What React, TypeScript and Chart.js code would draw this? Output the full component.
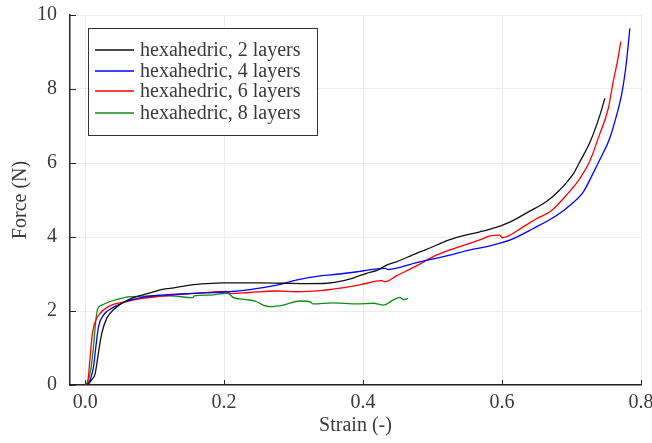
import React, { useEffect, useRef } from "react";
import { Chart, registerables } from "chart.js";

Chart.register(...registerables);

const seriesLabels = [
  "hexahedric, 2 layers",
  "hexahedric, 4 layers",
  "hexahedric, 6 layers",
  "hexahedric, 8 layers",
];
const seriesColors = ["#111111", "#0000ff", "#ff0000", "#138a13"];

const strain2 = [0.003, 0.005, 0.010, 0.0144, 0.019, 0.024, 0.031, 0.043, 0.062, 0.082, 0.094, 0.113, 0.122, 0.151, 0.175, 0.199, 0.230, 0.252, 0.285, 0.320, 0.348, 0.372, 0.390, 0.405, 0.420, 0.434, 0.448, 0.477, 0.487, 0.525, 0.554, 0.568, 0.583, 0.612, 0.638, 0.664, 0.683, 0.703, 0.711, 0.727, 0.741, 0.748];
const force2 = [0.00, 0.04, 0.15, 0.31, 0.85, 1.40, 1.80, 2.07, 2.30, 2.43, 2.49, 2.59, 2.61, 2.70, 2.74, 2.76, 2.76, 2.76, 2.75, 2.74, 2.75, 2.82, 2.92, 3.02, 3.10, 3.24, 3.33, 3.56, 3.63, 3.93, 4.08, 4.14, 4.21, 4.41, 4.68, 4.96, 5.27, 5.72, 6.00, 6.58, 7.30, 7.75];

const strain4 = [0.004, 0.0072, 0.012, 0.0154, 0.0192, 0.0264, 0.038, 0.058, 0.082, 0.110, 0.141, 0.175, 0.206, 0.237, 0.276, 0.305, 0.338, 0.367, 0.395, 0.420, 0.432, 0.436, 0.477, 0.525, 0.554, 0.578, 0.612, 0.645, 0.679, 0.698, 0.717, 0.731, 0.741, 0.755, 0.765, 0.772, 0.778, 0.784];
const force4 = [0.00, 0.14, 0.49, 1.03, 1.57, 1.89, 2.07, 2.25, 2.37, 2.43, 2.46, 2.49, 2.52, 2.58, 2.70, 2.84, 2.95, 3.00, 3.07, 3.14, 3.15, 3.12, 3.31, 3.51, 3.65, 3.74, 3.92, 4.23, 4.59, 4.86, 5.22, 5.72, 6.10, 6.67, 7.30, 7.84, 8.56, 9.64];

const strain6 = [0.002, 0.0039, 0.0072, 0.0105, 0.0144, 0.0216, 0.0335, 0.058, 0.082, 0.110, 0.141, 0.165, 0.204, 0.209, 0.237, 0.276, 0.305, 0.338, 0.357, 0.396, 0.427, 0.432, 0.448, 0.477, 0.501, 0.525, 0.549, 0.568, 0.583, 0.597, 0.600, 0.631, 0.650, 0.669, 0.693, 0.712, 0.727, 0.739, 0.753, 0.760, 0.766, 0.771];
const force6 = [0.00, 0.09, 0.76, 1.40, 1.71, 1.94, 2.12, 2.25, 2.34, 2.40, 2.46, 2.49, 2.53, 2.47, 2.50, 2.54, 2.52, 2.55, 2.59, 2.71, 2.82, 2.79, 2.95, 3.22, 3.47, 3.65, 3.80, 3.92, 4.03, 4.05, 3.98, 4.28, 4.50, 4.68, 5.14, 5.58, 6.08, 6.70, 7.48, 8.20, 8.74, 9.28];

const strain8 = [0.000, 0.0024, 0.008, 0.012, 0.0154, 0.0183, 0.024, 0.038, 0.058, 0.082, 0.094, 0.122, 0.155, 0.157, 0.180, 0.204, 0.207, 0.213, 0.232, 0.247, 0.256, 0.266, 0.285, 0.309, 0.324, 0.328, 0.357, 0.391, 0.415, 0.429, 0.444, 0.453, 0.458, 0.465];
const force8 = [0.00, 0.04, 0.40, 1.03, 1.76, 2.07, 2.16, 2.27, 2.37, 2.40, 2.41, 2.41, 2.36, 2.41, 2.43, 2.48, 2.46, 2.37, 2.31, 2.25, 2.16, 2.12, 2.16, 2.27, 2.25, 2.19, 2.22, 2.19, 2.21, 2.16, 2.30, 2.37, 2.31, 2.34];

const xTicks = [0, 0.2, 0.4, 0.6, 0.8];
const yTicks = [0, 2, 4, 6, 8, 10];
const xTitle = "Strain (-)";
const yTitle = "Force (N)";

const FONT = "'Liberation Serif', 'Times New Roman', serif";
const TEXT = "#3a3a3a";
const AXIS = "#262626";

const pairs = (xs: number[], ys: number[]) => xs.map((x, i) => ({ x, y: ys[i] }));

const legendPlugin = {
  id: "boxLegend",
  afterDraw(chart: any) {
    const { ctx, chartArea } = chart;
    const x0 = chartArea.left + 18;
    const y0 = chartArea.top + 13;
    const w = 229;
    const h = 107;
    ctx.save();
    ctx.fillStyle = "#ffffff";
    ctx.fillRect(x0, y0, w, h);
    ctx.strokeStyle = "#333333";
    ctx.lineWidth = 1;
    ctx.strokeRect(x0 + 0.5, y0 + 0.5, w, h);
    ctx.font = `20px ${FONT}`;
    ctx.textBaseline = "middle";
    ctx.fillStyle = TEXT;
    const rows = [22, 43, 63, 85];
    seriesLabels.forEach((lab, i) => {
      const cy = y0 + rows[i];
      ctx.strokeStyle = seriesColors[i];
      ctx.lineWidth = 1.5;
      ctx.beginPath();
      ctx.moveTo(x0 + 7, cy);
      ctx.lineTo(x0 + 46, cy);
      ctx.stroke();
      ctx.fillStyle = TEXT;
      ctx.fillText(lab, x0 + 52, cy + 1);
    });
    ctx.restore();
  },
};

const inwardTicks = {
  id: "inwardTicks",
  afterDraw(chart: any) {
    const { ctx, chartArea, scales } = chart;
    ctx.save();
    ctx.strokeStyle = AXIS;
    ctx.lineWidth = 1;
    xTicks.forEach((v) => {
      const px = Math.round(scales.x.getPixelForValue(v)) + 0.5;
      ctx.beginPath();
      ctx.moveTo(px, chartArea.bottom);
      ctx.lineTo(px, chartArea.bottom - 5);
      ctx.stroke();
    });
    yTicks.forEach((v) => {
      const py = Math.round(scales.y.getPixelForValue(v)) + 0.5;
      ctx.beginPath();
      ctx.moveTo(chartArea.left, py);
      ctx.lineTo(chartArea.left + 6, py);
      ctx.stroke();
    });
    ctx.restore();
  },
};

export default function App() {
  const ref = useRef<HTMLCanvasElement | null>(null);
  useEffect(() => {
    if (!ref.current) return;
    const series = [
      pairs(strain2, force2),
      pairs(strain4, force4),
      pairs(strain6, force6),
      pairs(strain8, force8),
    ];
    const chart = new Chart(ref.current, {
      type: "line",
      data: {
        datasets: series.map((d, i) => ({
          label: seriesLabels[i],
          data: d,
          borderColor: seriesColors[i],
          borderWidth: 1.3,
          pointRadius: 0,
          fill: false,
          cubicInterpolationMode: "monotone" as const,
        })),
      },
      options: {
        responsive: false,
        animation: false,
        events: [],
        layout: { padding: { top: 15, right: 11, left: 0, bottom: 0 } },
        plugins: { legend: { display: false }, tooltip: { enabled: false } },
        scales: {
          x: {
            type: "linear",
            min: -0.0218,
            max: 0.8,
            afterFit: (s: any) => {
              s.height = 58;
              s.paddingLeft = 0;
              s.paddingRight = 0;
            },
            afterBuildTicks: (s: any) => { s.ticks = xTicks.map((v) => ({ value: v })); },
            grid: { color: "#ececec", lineWidth: 1, drawTicks: false },
            border: { color: AXIS, width: 1.5 },
            ticks: {
              padding: 6,
              color: TEXT,
              font: { family: FONT, size: 20 },
              callback: (v: any) => Number(v).toFixed(1),
              maxRotation: 0,
            },
            title: {
              display: true,
              text: xTitle,
              color: TEXT,
              font: { family: FONT, size: 20 },
              padding: { top: 0, bottom: 5 },
            },
          },
          y: {
            type: "linear",
            min: 0,
            max: 10,
            afterFit: (s: any) => {
              s.width = 70;
              s.paddingTop = 0;
              s.paddingBottom = 0;
            },
            afterBuildTicks: (s: any) => { s.ticks = yTicks.map((v) => ({ value: v })); },
            grid: { color: "#ececec", lineWidth: 1, drawTicks: false },
            border: { color: AXIS, width: 1.5 },
            ticks: {
              padding: 13,
              color: TEXT,
              font: { family: FONT, size: 20 },
              callback: (v: any) => String(v),
            },
            title: {
              display: true,
              text: yTitle,
              color: TEXT,
              font: { family: FONT, size: 20 },
              padding: { top: 9, bottom: 0 },
            },
          },
        },
      },
      plugins: [inwardTicks, legendPlugin],
    });
    return () => chart.destroy();
  }, []);
  return (
    <div style={{ position: "absolute", left: 0, top: 0, width: 652, height: 443 }}>
      <canvas ref={ref} width={652} height={443} style={{ display: "block" }} />
    </div>
  );
}
